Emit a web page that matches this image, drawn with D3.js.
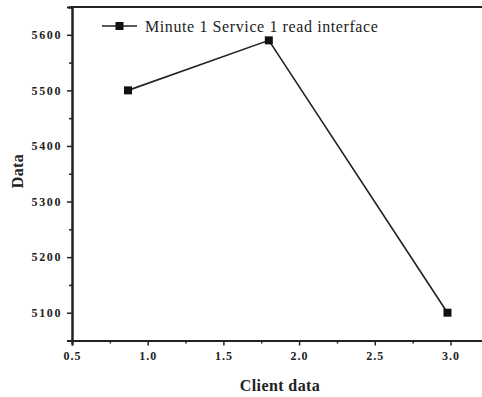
<!DOCTYPE html>
<html><head><meta charset="utf-8">
<script src="https://cdn.jsdelivr.net/npm/d3@7"></script>
<style>
html,body{margin:0;padding:0;background:#fff;overflow:hidden}
</style></head>
<body>
<svg id="c" width="482" height="397"></svg>
<script>
const xValues = [0.87, 1.80, 2.98];
const yValues = [5500, 5590, 5100];
const seriesName = "Minute 1 Service 1 read interface";
const xTicks = [0.5, 1.0, 1.5, 2.0, 2.5, 3.0];
const yTicks = [5100, 5200, 5300, 5400, 5500, 5600];
const xLabel = "Client data";
const yLabel = "Data";

const FONT = "Liberation Serif";
const svg = d3.select("#c");
const mLeft = 72, mTop = 7, mBottom = 340.5;
const x = d3.scaleLinear().domain([0.5, 3.25]).range([mLeft, mLeft + 2.75 * 151.4]);
const y = d3.scaleLinear().domain([5050, 5650]).range([mBottom, mTop]);
const ink = "#222";

// minor ticks
const xMinor = d3.range(0.75, 3.25, 0.5);
const yMinor = d3.range(5050, 5651, 100);

const gx = svg.append("g").attr("transform", `translate(0,${mBottom})`)
  .call(d3.axisBottom(x).tickValues(xTicks).tickFormat(d3.format(".1f")).tickSize(5).tickPadding(6));
const gxm = svg.append("g").attr("transform", `translate(0,${mBottom})`)
  .call(d3.axisBottom(x).tickValues(xMinor).tickFormat("").tickSize(3));
const gy = svg.append("g").attr("transform", `translate(${mLeft},0)`)
  .call(d3.axisLeft(y).tickValues(yTicks).tickFormat(d3.format("d")).tickSize(5).tickPadding(5));
const gym = svg.append("g").attr("transform", `translate(${mLeft},0)`)
  .call(d3.axisLeft(y).tickValues(yMinor).tickFormat("").tickSize(3));

[gx, gxm, gy, gym].forEach(g => {
  g.attr("font-family", FONT).attr("font-size", 12).attr("font-weight", "bold");
  g.select(".domain").attr("stroke", ink).attr("stroke-width", 2);
  g.selectAll(".tick line").attr("stroke", ink).attr("stroke-width", 1.5);
  g.selectAll("text").attr("fill", ink).attr("letter-spacing", "1px");
});
gy.selectAll("text").attr("letter-spacing", "1.6px");

// top frame line
svg.append("line").attr("x1", mLeft - 1).attr("x2", 482).attr("y1", mTop).attr("y2", mTop)
  .attr("stroke", ink).attr("stroke-width", 2);

// line + markers
const data = xValues.map((v, i) => ({x: v, y: yValues[i]}));
svg.append("path").datum(data)
  .attr("d", d3.line().x(d => x(d.x)).y(d => y(d.y)))
  .attr("fill", "none").attr("stroke", ink).attr("stroke-width", 1.6);
svg.selectAll("rect.m").data(data).enter().append("rect").attr("class", "m")
  .attr("x", d => x(d.x) - 4).attr("y", d => y(d.y) - 4)
  .attr("width", 8).attr("height", 8).attr("fill", "#111");

// legend
svg.append("line").attr("x1", 102).attr("x2", 137).attr("y1", 26).attr("y2", 26)
  .attr("stroke", ink).attr("stroke-width", 1.6);
svg.append("rect").attr("x", 115.5).attr("y", 22).attr("width", 8).attr("height", 8).attr("fill", "#111");
svg.append("text").attr("x", 145).attr("y", 31.5)
  .attr("font-family", FONT).attr("font-size", 16).attr("fill", ink).attr("letter-spacing", "0.6px")
  .text(seriesName);

// axis titles
svg.append("text").attr("x", 280).attr("y", 391).attr("text-anchor", "middle")
  .attr("font-family", FONT).attr("font-size", 16).attr("font-weight", "bold").attr("fill", ink)
  .attr("letter-spacing", "0.4px").text(xLabel);
svg.append("text").attr("transform", "translate(23,171) rotate(-90)").attr("text-anchor", "middle")
  .attr("font-family", FONT).attr("font-size", 16).attr("font-weight", "bold").attr("fill", ink)
  .attr("letter-spacing", "0.4px").text(yLabel);
</script>
</body></html>
